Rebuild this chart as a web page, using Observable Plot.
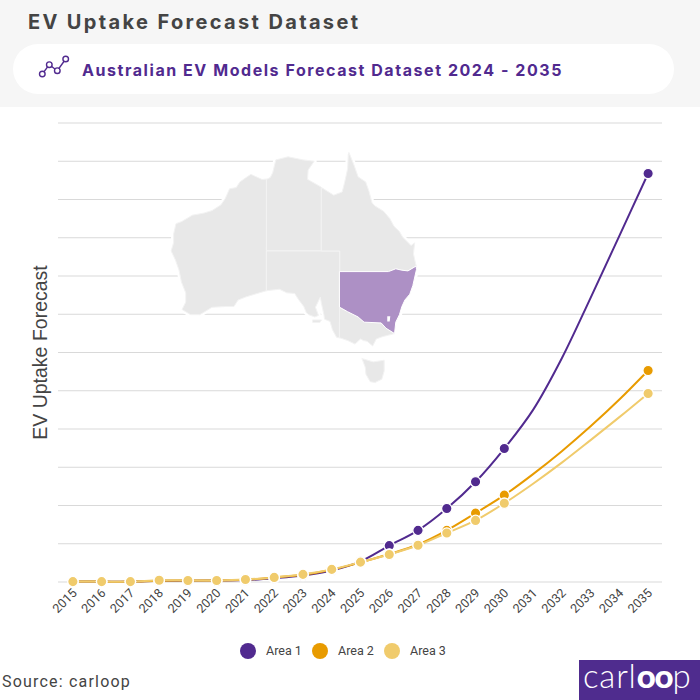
<!DOCTYPE html>
<html>
<head>
<meta charset="utf-8">
<script src="https://cdn.jsdelivr.net/npm/d3@7"></script>
<script src="https://cdn.jsdelivr.net/npm/@observablehq/plot@0.6"></script>
<style>
  html,body{margin:0;padding:0;background:#fff;width:700px;height:700px;overflow:hidden;position:relative}
  .abs{position:absolute}
  #hdr{left:0;top:0;width:700px;height:107px;background:#f6f6f6}
  #title{left:28px;top:10px;font:700 20px Inter,sans-serif;letter-spacing:2.35px;color:#444;white-space:nowrap}
  #pill{left:13px;top:44px;width:661px;height:50px;border-radius:25px;background:#fff}
  #sub{left:82px;top:60px;font:700 16px Inter,sans-serif;letter-spacing:1.55px;color:#512a8f;white-space:nowrap}
  #chart{left:0;top:107px}
  #map{left:163.7px;top:146px}
  .lg{top:643px;width:16px;height:16px;border-radius:50%}
  .lt{top:643px;font:12.5px Roboto,sans-serif;color:#444;white-space:nowrap}
  #src{left:2px;top:672px;font:16px Roboto,sans-serif;letter-spacing:1.2px;color:#444;white-space:nowrap}
  #logo{left:579px;top:660px;width:121px;height:40px;background:#4f2c8e}
  #logot{left:4px;top:-1px;font:300 33px/33px Lato,sans-serif;color:#fff;letter-spacing:.8px;white-space:nowrap}
  #logot b{font-weight:900;letter-spacing:-1.2px}
</style>
</head>
<body>
<div id="hdr" class="abs"></div>
<div id="title" class="abs">EV Uptake Forecast Dataset</div>
<div id="pill" class="abs"></div>
<svg class="abs" style="left:0;top:0" width="100" height="100" fill="none" stroke="#512a8f" stroke-width="1.4">
  <path d="M42.3 74L49.3 64.7L57.3 70.7L65.7 59"/>
  <circle cx="42.3" cy="74" r="2.8" fill="#fff"/><circle cx="49.3" cy="64.7" r="2.8" fill="#fff"/>
  <circle cx="57.3" cy="70.7" r="2.8" fill="#fff"/><circle cx="65.7" cy="59" r="2.8" fill="#fff"/>
</svg>
<div id="sub" class="abs">Australian EV Models Forecast Dataset 2024 - 2035</div>
<div id="chart" class="abs"></div>
<div id="map" class="abs"></div>
<div class="abs lg" style="left:240px;background:#512a8f"></div><div class="abs lt" style="left:266px">Area 1</div>
<div class="abs lg" style="left:312px;background:#e89b00"></div><div class="abs lt" style="left:338px">Area 2</div>
<div class="abs lg" style="left:384px;background:#f0cb6c"></div><div class="abs lt" style="left:410px">Area 3</div>
<div id="src" class="abs">Source: carloop</div>
<div id="logo" class="abs"><div id="logot" class="abs">carl<b>oo</b>p</div></div>
<script>
const years = d3.range(2015, 2036).map(String);
const area1 = [0.1,0.1,0.1,0.3,0.3,0.4,0.5,1.0,1.7,3.0,5.4,9.5,13.5,19.2,26.2,34.9,45.0,58.5,74.3,90.5,106.8];
const area2 = [0.1,0.1,0.1,0.3,0.4,0.4,0.6,1.2,1.9,3.2,5.1,7.3,9.8,13.5,18.0,22.7,28.2,34.2,40.7,47.7,55.3];
const area3 = [0.1,0.1,0.1,0.45,0.4,0.4,0.65,1.2,2.0,3.3,5.2,7.2,9.6,12.8,16.1,20.6,25.7,31.2,37.1,43.1,49.3];
const dotYears = ["2015","2016","2017","2018","2019","2020","2021","2022","2023","2024","2025","2026","2027","2028","2029","2030","2035"];
const yTicks = d3.range(0, 130, 10);
const areaNames = ["Area 1","Area 2","Area 3"];
const areaColors = ["#512a8f","#e89b00","#f0cb6c"];

const rows = [area1, area2, area3].flatMap((s, k) => s.map((v, i) => ({year: years[i], value: v, area: areaNames[k]})));

const chart = Plot.plot({
  width: 700, height: 530,
  marginLeft: 58, marginRight: 38, marginTop: 15.5, marginBottom: 55.5,
  style: {background: "transparent", overflow: "visible"},
  x: {type: "point", domain: years, padding: 0.5, round: false, label: null},
  y: {domain: [0, 120], axis: null},
  color: {domain: areaNames, range: areaColors},
  marks: [
    Plot.ruleY(yTicks, {stroke: "#d9d9d9", strokeWidth: 1}),
    Plot.axisX({tickRotate: -45, tickSize: 0, tickPadding: 9, dx: 2, fontSize: 12.5, fontFamily: "Roboto", color: "#444", label: null}),
    Plot.text(["EV Uptake Forecast"], {frameAnchor: "left", rotate: -90, dx: -18, fontSize: 19.5, fontFamily: "Liberation Sans", fill: "#444", textAnchor: "middle"}),
    Plot.line(rows, {x: "year", y: "value", stroke: "area", z: "area", curve: "catmull-rom", strokeWidth: 2}),
    Plot.dot(rows.filter(d => dotYears.includes(d.year)), {x: "year", y: "value", fill: "area", r: 5.2, stroke: "#fff", strokeWidth: 1.3})
  ]
});
document.getElementById("chart").append(chart);

// map outlines as [longitude, latitude], clockwise
const wa = [[129,-15],[129,-31.7],[127,-32.2],[125.5,-32.6],[124.3,-33],[123.6,-33.9],[122,-33.9],[120,-34],[118,-35],[116.5,-35],[115.1,-34.3],[115.7,-33.3],[115.7,-32],[115,-30.5],[114.6,-28.8],[114,-27.3],[113.3,-26],[113.7,-24.8],[113.7,-23.5],[114.1,-21.9],[115,-21.6],[116.8,-20.6],[118.6,-20.3],[120,-19.9],[121.5,-19],[122.2,-18],[122.9,-16.5],[124,-16.3],[124.6,-15.4],[125.5,-14.8],[126.4,-14.2],[128.2,-15],[129,-15]];
const nt = [[129,-15],[129.6,-14.7],[130,-13.9],[130.5,-11.9],[132.5,-11.4],[135,-11.9],[136.8,-12.1],[135.8,-13.5],[135.7,-15],[137.9,-16.2],[138,-16.3],[138,-26],[129,-26],[129,-15]];
const sa = [[129,-26],[138,-26],[141,-26],[141,-38.05],[140.5,-38],[139.8,-37],[139.4,-35.9],[138.5,-35.6],[138.4,-35],[138,-33.5],[137.8,-32.6],[137.4,-33.3],[137,-34],[137.5,-35.1],[136.9,-35.3],[135.9,-35],[135.5,-34.7],[135.1,-33.9],[134.2,-32.9],[133.6,-32.1],[132.3,-32],[131.1,-31.5],[129,-31.7],[129,-26]];
const qld = [[138,-16.3],[140,-17.5],[141.4,-17],[141.8,-15.5],[142.3,-13.3],[142.4,-11],[142.5,-10.7],[143.4,-12.9],[144,-14.6],[145.25,-15.4],[145.8,-16.9],[146.3,-18.7],[146.8,-19.2],[148.2,-20],[149.2,-21.1],[149.9,-22.3],[150.8,-23.1],[151.3,-23.9],[152.7,-25.2],[153.3,-24.8],[153.1,-26.4],[153.5,-28],[153.55,-28.2],[152.2,-28.9],[151.2,-28.8],[150.2,-28.6],[149,-29],[141,-29],[141,-26],[138,-26],[138,-16.3]];
const nsw = [[141,-29],[149,-29],[150.2,-28.6],[151.2,-28.8],[152.2,-28.9],[153.55,-28.2],[153.6,-28.7],[153,-31],[152.5,-32.2],[151.7,-33],[151.2,-33.9],[150.8,-35],[150.2,-36],[150,-37.5],[148.6,-36.8],[147.8,-36.1],[145,-36],[144,-35.3],[142.3,-34.6],[141,-34],[141,-29]];
const vic = [[141,-34],[142.3,-34.6],[144,-35.3],[145,-36],[147.8,-36.1],[148.6,-36.8],[150,-37.5],[148,-37.9],[147,-38.2],[146.4,-39.1],[145.5,-38.5],[144.9,-38.4],[144.4,-38.2],[143.5,-38.85],[142.3,-38.4],[141,-38.05],[141,-34]];
const tas = [[144.7,-40.7],[146.5,-41.1],[148.3,-40.9],[148.3,-42.2],[147.9,-43.2],[146.8,-43.6],[146,-43.5],[145.3,-42.6],[145.2,-41.8],[144.7,-40.7]];
const kangaroo = [[136.6,-35.7],[138,-35.7],[137.7,-36.05],[136.6,-36.05],[136.6,-35.7]];
const act = [[148.8,-35.2],[149.3,-35.2],[149.2,-35.9],[148.8,-35.9],[148.8,-35.2]];
const poly = rings => ({type: "Polygon", coordinates: [rings]});
const greyStates = [wa, nt, sa, qld, vic, tas, kangaroo].map(poly);
const mapExtent = {type: "MultiPoint", coordinates: [[113.2,-10.7],[153.6,-43.6]]};

const map = Plot.plot({
  width: 258, height: 242, margin: 6,
  style: {background: "transparent", overflow: "visible"},
  projection: {type: "mercator", domain: mapExtent},
  marks: [
    Plot.geo([...greyStates, poly(nsw)], {fill: "#fff", stroke: "#fff", strokeWidth: 5}),
    Plot.geo(greyStates, {fill: "#e8e8e8", stroke: "#f3f3f3", strokeWidth: 1}),
    Plot.geo([poly(nsw)], {fill: "#ad90c5", stroke: "#fff", strokeWidth: 1}),
    Plot.geo([poly(act)], {fill: "#fff"})
  ]
});
document.getElementById("map").append(map);
</script>
</body>
</html>
